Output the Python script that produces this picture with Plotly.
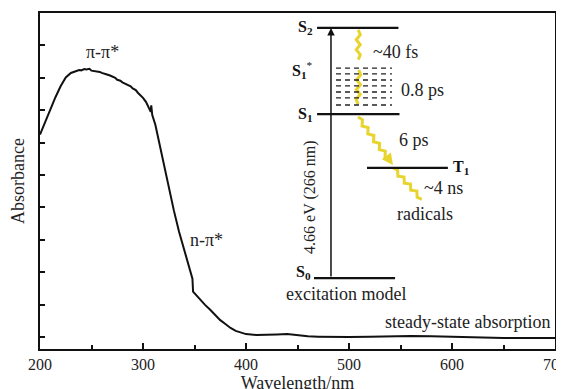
import plotly.graph_objects as go
import numpy as np

# ---- steady-state absorption spectrum ----
wavelength = [200, 205, 210, 215, 220, 225, 230, 235, 238, 240, 243, 245, 248, 250, 253,
              255, 258, 260, 263, 265, 268, 270, 273, 275, 278, 280, 283, 285, 288, 290,
              293, 295, 300, 303, 306, 307.5, 308, 309, 312, 315, 320, 325, 330, 335,
              340, 345, 348, 348.6, 350, 355, 360, 365, 370, 375, 380, 385, 390, 395,
              400, 410, 420, 430, 440, 450, 460, 470, 480, 500, 520, 540, 560, 580, 600,
              620, 650, 700]
absorbance = [6.25, 6.64, 7.03, 7.40, 7.74, 8.01, 8.15, 8.21, 8.24, 8.23, 8.27, 8.26,
              8.28, 8.22, 8.21, 8.19, 8.18, 8.15, 8.13, 8.10, 8.07, 8.04, 8.00, 7.94,
              7.91, 7.86, 7.82, 7.77, 7.74, 7.67, 7.62, 7.54, 7.38, 7.25, 7.07, 6.95,
              7.15, 6.85, 6.55, 6.10, 5.45, 4.70, 3.90, 3.25, 2.68, 2.10, 1.80, 1.40,
              1.35, 1.18, 1.00, 0.85, 0.68, 0.52, 0.40, 0.28, 0.19, 0.13, 0.09, 0.06,
              0.06, 0.08, 0.09, 0.05, 0.02, 0.01, 0.00, 0.00, 0.01, 0.03, 0.03, 0.02,
              0.00, -0.02, -0.03, -0.03]

x_ticks = [200, 300, 400, 500, 600, 700]
y_ticks = [0, 1, 2, 3, 4, 5, 6, 7, 8, 9]

# ---- excitation-model inset (in axis units) ----
level_names = ["S<sub>2</sub>", "S<sub>1</sub>", "T<sub>1</sub>", "S<sub>0</sub>"]
level_y = [9.54, 6.88, 5.22, 1.82]
level_x0 = [469, 469, 517.5, 466]
level_x1 = [548, 549, 596, 544.7]
vib_levels_y = [8.30, 8.12, 7.93, 7.75, 7.56, 7.38, 7.16]
vib_x = [487.4, 541.7]
pump_x = 482.5
# relaxation arrows: (x_start, y_start, x_end, y_end)
relax = [(509, 9.48, 509, 8.46), (509.5, 8.24, 508.7, 7.07),
         (508.7, 6.79, 542.7, 5.31), (542.7, 5.22, 573.8, 4.14)]
relax_labels = ["~40 fs", "0.8 ps", "6 ps", "~4 ns"]
relax_label_pos = [(521, 8.80), (548.5, 7.62), (546.6, 6.08), (571.0, 4.60)]

XR = [200, 700]
YR = [-0.37, 10.0]
W, H = 564, 389
# page body adds an 8px offset; margins compensate so the plot box lands where it should
ML, MR, MT, MB = 32, 17, 5, 48
PW, PH = W - ML - MR, H - MT - MB

FONT = "Liberation Serif"
fig = go.Figure()

fig.add_trace(go.Scatter(x=wavelength, y=absorbance, mode="lines",
                         line=dict(color="#111", width=2), hoverinfo="skip"))

# energy levels
for n, y, x0, x1 in zip(level_names, level_y, level_x0, level_x1):
    fig.add_shape(type="line", x0=x0, x1=x1, y0=y, y1=y, xref="x", yref="y",
                  line=dict(color="#111", width=2.2))
for y in vib_levels_y:
    fig.add_shape(type="line", x0=vib_x[0], x1=vib_x[1], y0=y, y1=y, xref="x", yref="y",
                  line=dict(color="#222", width=1.4, dash="5px,4px"))

# pump arrow
fig.add_annotation(x=pump_x, y=level_y[0], ax=pump_x, ay=level_y[3], xref="x", yref="y",
                   axref="x", ayref="y", showarrow=True, arrowhead=2, arrowsize=1,
                   arrowwidth=1.5, arrowcolor="#111", text="")

# wavy relaxation arrows (decorative zigzag)
def to_px(x, y):
    return ((x - XR[0]) / (XR[1] - XR[0]) * PW, (y - YR[0]) / (YR[1] - YR[0]) * PH)

def to_data(px, py):
    return (XR[0] + px / PW * (XR[1] - XR[0]), YR[0] + py / PH * (YR[1] - YR[0]))

for (xs, ys, xe, ye) in relax:
    p0 = np.array(to_px(xs, ys)); p1 = np.array(to_px(xe, ye))
    d = p1 - p0; L = np.hypot(*d); u = d / L; nrm = np.array([-u[1], u[0]])
    nseg = max(4, int(L / 5))
    pts = []
    for i in range(nseg + 1):
        t = i / nseg
        off = 0 if i in (0, nseg) else (2.0 if i % 2 else -2.0)
        pts.append(p0 + d * t * 0.9 + nrm * off)
    xs_, ys_ = zip(*[to_data(*p) for p in pts])
    fig.add_trace(go.Scatter(x=list(xs_), y=list(ys_), mode="lines",
                             line=dict(color="#e8d42e", width=3), hoverinfo="skip"))
    tail = to_data(*pts[-1])
    fig.add_annotation(x=xe, y=ye, ax=tail[0], ay=tail[1], xref="x", yref="y",
                       axref="x", ayref="y", showarrow=True, arrowhead=2, arrowsize=0.9,
                       arrowwidth=2.5, arrowcolor="#e8d42e", text="")

tf = dict(family=FONT, size=18, color="#222")
lf = dict(family=FONT, size=16, color="#111")
# level labels
fig.add_annotation(x=467, y=level_y[0], text="<b>S<sub>2</sub></b>", showarrow=False,
                   xanchor="right", font=lf)
fig.add_annotation(x=467, y=8.24, text="<b>S<sub>1</sub></b><sup>*</sup>", showarrow=False,
                   xanchor="right", font=lf)
fig.add_annotation(x=467, y=level_y[1], text="<b>S<sub>1</sub></b>", showarrow=False,
                   xanchor="right", font=lf)
fig.add_annotation(x=599, y=level_y[2], text="<b>T<sub>1</sub></b>", showarrow=False,
                   xanchor="left", font=lf)
fig.add_annotation(x=465, y=level_y[3] + 0.17, text="<b>S<sub>0</sub></b>", showarrow=False,
                   xanchor="right", font=lf)
fig.add_annotation(x=497, y=1.32, text="excitation model", showarrow=False, font=tf)
fig.add_annotation(x=462, y=4.32, text="4.66 eV (266 nm)", showarrow=False, textangle=-90,
                   font=dict(family=FONT, size=16, color="#222"))
for lab, (lx, ly) in zip(relax_labels, relax_label_pos):
    fig.add_annotation(x=lx, y=ly, text=lab, showarrow=False, xanchor="left", font=tf)
fig.add_annotation(x=574, y=3.80, text="radicals", showarrow=False, font=tf)

# spectrum labels
fig.add_annotation(x=261, y=8.8, text="π-π*", showarrow=False, font=tf)
fig.add_annotation(x=362, y=3.0, text="n-π*", showarrow=False, font=tf)
fig.add_annotation(x=697, y=0.45, text="steady-state absorption", showarrow=False,
                   xanchor="right", font=tf)

fig.update_layout(
    width=W, height=H, margin=dict(l=ML, r=MR, t=MT, b=MB),
    paper_bgcolor="white", plot_bgcolor="white", showlegend=False,
    font=dict(family=FONT, size=16, color="#222"),
)
fig.update_xaxes(range=XR, tickvals=x_ticks, ticks="inside", ticklen=6, tickwidth=1.5,
                 tickcolor="#111", showline=True, linewidth=2, linecolor="#111", mirror=True,
                 showgrid=False, zeroline=False, automargin=False,
                 ticklabeloverflow="allow",
                 minor=dict(dtick=50, tick0=200, ticks="inside", ticklen=4, tickwidth=1.5,
                            tickcolor="#111", showgrid=False),
                 title=dict(text="Wavelength/nm", standoff=0, font=dict(size=18)),
                 tickfont=dict(size=16))
fig.update_yaxes(range=YR, tickvals=y_ticks, showticklabels=False, ticks="inside",
                 ticklen=5, tickwidth=1.5, tickcolor="#111", showline=True, linewidth=2,
                 linecolor="#111", mirror=True, showgrid=False, zeroline=False,
                 automargin=False,
                 title=dict(text="Absorbance", standoff=10, font=dict(size=18)))

fig.write_html("out.html")
